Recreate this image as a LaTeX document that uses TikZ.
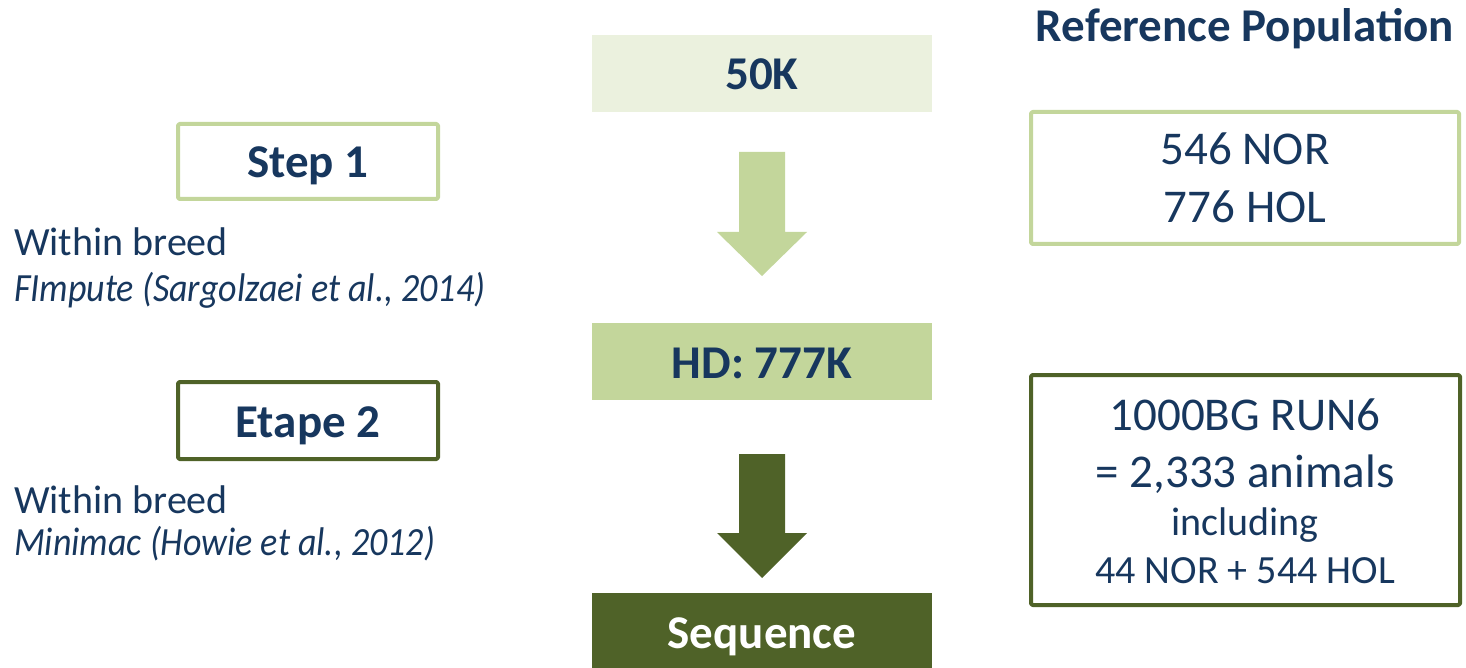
\documentclass[tikz,border=0pt]{standalone}
\usepackage{fontspec}
\setmainfont{Carlito}
\definecolor{txt}{HTML}{17375E}
\definecolor{lgreen}{HTML}{C3D69B}
\definecolor{vlgreen}{HTML}{EBF1DE}
\definecolor{dgreen}{HTML}{4F6228}
\tikzset{
  big/.style={font=\fontsize{47}{56}\selectfont, text=txt},
  bigb/.style={font=\fontsize{47}{56}\selectfont\bfseries, text=txt},
  mid/.style={font=\fontsize{40}{48}\selectfont, text=txt},
  midit/.style={font=\fontsize{40}{48}\selectfont\itshape, text=txt, xscale=0.9},
  small/.style={font=\fontsize{40}{48}\selectfont, text=txt},
  framebox/.style={draw=#1, line width=4pt, line join=round, rounded corners=1.5pt},
}
\begin{document}
\begin{tikzpicture}[x=1pt,y=-1pt]
\useasboundingbox (0,0) rectangle (1466,668);
% central column boxes
\fill[vlgreen] (592,35) rectangle (932,112);
\coordinate (b1bot) at (762,112);
\fill[lgreen] (592,323) rectangle (932,400);
\coordinate (b2bot) at (762,400);
\fill[dgreen] (592,593) rectangle (932,668);
\node[bigb, anchor=base] (k50) at (762,90) {50K};
\node[bigb, anchor=base] (hd) at (762,378) {HD: 777K};
\node[bigb, anchor=base, text=white] (seq) at (762,648) {Sequence};
% block arrows
\fill[lgreen] ([xshift=-23pt,yshift=-40pt]b1bot) -- ([xshift=23pt,yshift=-40pt]b1bot)
  -- ([xshift=23pt,yshift=-120pt]b1bot) -- ([xshift=45pt,yshift=-120pt]b1bot)
  -- ([yshift=-164pt]b1bot) -- ([xshift=-45pt,yshift=-120pt]b1bot)
  -- ([xshift=-23pt,yshift=-120pt]b1bot) -- cycle;
\fill[dgreen] ([xshift=-23pt,yshift=-54pt]b2bot) -- ([xshift=23pt,yshift=-54pt]b2bot)
  -- ([xshift=23pt,yshift=-133pt]b2bot) -- ([xshift=45pt,yshift=-133pt]b2bot)
  -- ([yshift=-178pt]b2bot) -- ([xshift=-45pt,yshift=-133pt]b2bot)
  -- ([xshift=-23pt,yshift=-133pt]b2bot) -- cycle;
% left column
\draw[framebox=lgreen] (178,124) rectangle (438,199);
\node[bigb, anchor=base] (s1) at (308,178) {Step 1};
\node[mid, anchor=base west, inner sep=0pt] (wb1) at (14,255) {Within breed};
\node[midit, anchor=base west, inner sep=0pt] (fi) at (14,301) {FImpute (Sargolzaei et al., 2014)};
\draw[framebox=dgreen] (178,382) rectangle (438,459);
\node[bigb, anchor=base] (s2) at (308,437) {Etape 2};
\node[mid, anchor=base west, inner sep=0pt] (wb2) at (14,513) {Within breed};
\node[midit, anchor=base west, inner sep=0pt] (mm) at (14,555) {Minimac (Howie et al., 2012)};
% right column
\node[bigb, anchor=base] (ref) at (1245,42) {Reference Population};
\draw[framebox=lgreen] (1031,112) rectangle (1459,244);
\node[big, anchor=base] (r1a) at (1245,165) {546 NOR};
\node[big, anchor=base] (r1b) at (1245,223) {776 HOL};
\draw[framebox=dgreen] (1031,375) rectangle (1460,605);
\node[big, anchor=base] (r2a) at (1245,430) {1000BG RUN6};
\node[big, anchor=base] (r2b) at (1245,487) {= 2,333 animals};
\node[small, anchor=base] (r2c) at (1245,535) {including};
\node[small, anchor=base] (r2d) at (1245,583) {44 NOR + 544 HOL};
\end{tikzpicture}
\end{document}
